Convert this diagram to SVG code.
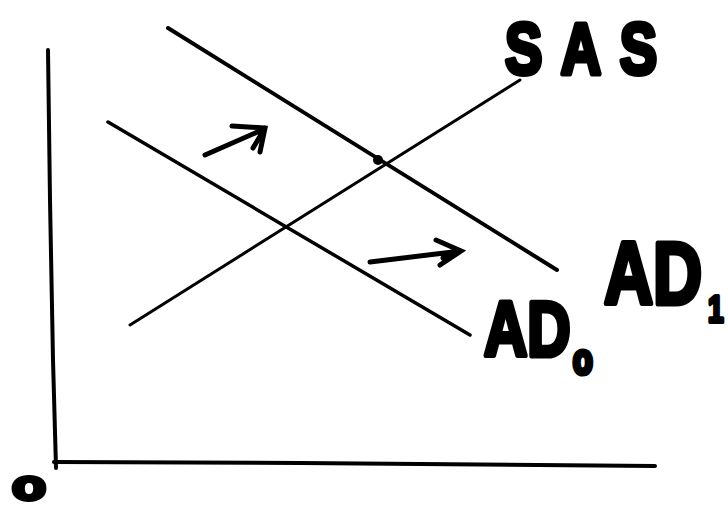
<svg xmlns="http://www.w3.org/2000/svg" width="728" height="512" viewBox="0 0 728 512">
<style>
.ln{stroke:#000;fill:none;stroke-linecap:round}
.lbl{font-family:"Liberation Sans",Arial,sans-serif;font-weight:bold;fill:#000;stroke:#000;stroke-width:4;stroke-linejoin:round}
</style>
<rect width="728" height="512" fill="#fff"/>
<g id="axes">
<path class="ln" stroke-width="4" d="M48,50 L50,200 L53,360 L56,468"/>
<path class="ln" stroke-width="4" d="M54,462 L300,463 L655,466"/>
</g>
<g id="connectors">
<path id="AD1-line" class="ln" stroke-width="4" d="M168,28 L557,270"/>
<path id="AD0-line" class="ln" stroke-width="3.5" d="M108,122 L470,335"/>
<path id="SAS-line" class="ln" stroke-width="3" d="M130,325 L520,80"/>
<circle cx="378" cy="160" r="5" fill="#000"/>
<path class="ln" stroke-width="5" d="M205,155 L262,130 M232,126 L265,128 L260,152 M265,128 L253,148"/>
<path class="ln" stroke-width="5" d="M370,262 L461,251 M436,240 L461,251 L440,265 M461,251 L443,258"/>
</g>
<g id="SAS"><text class="lbl" transform="translate(505,74) scale(1,1.3)" x="0" y="0" font-size="56" textLength="152" lengthAdjust="spacing">SAS</text></g>
<g id="AD1"><text class="lbl" transform="translate(604,304) scale(1,1.3)" x="0" y="0" font-size="68">AD<tspan x="104" y="14" font-size="28" stroke-width="3">1</tspan></text></g>
<g id="AD0"><text class="lbl" transform="translate(484,356) scale(1,1.3)" x="0" y="0" font-size="60">AD<tspan x="89" y="14" font-size="32">o</tspan></text></g>
<g id="origin"><text class="lbl" x="12" y="500" font-size="42" stroke-width="5" textLength="34" lengthAdjust="spacingAndGlyphs">o</text></g>
</svg>
